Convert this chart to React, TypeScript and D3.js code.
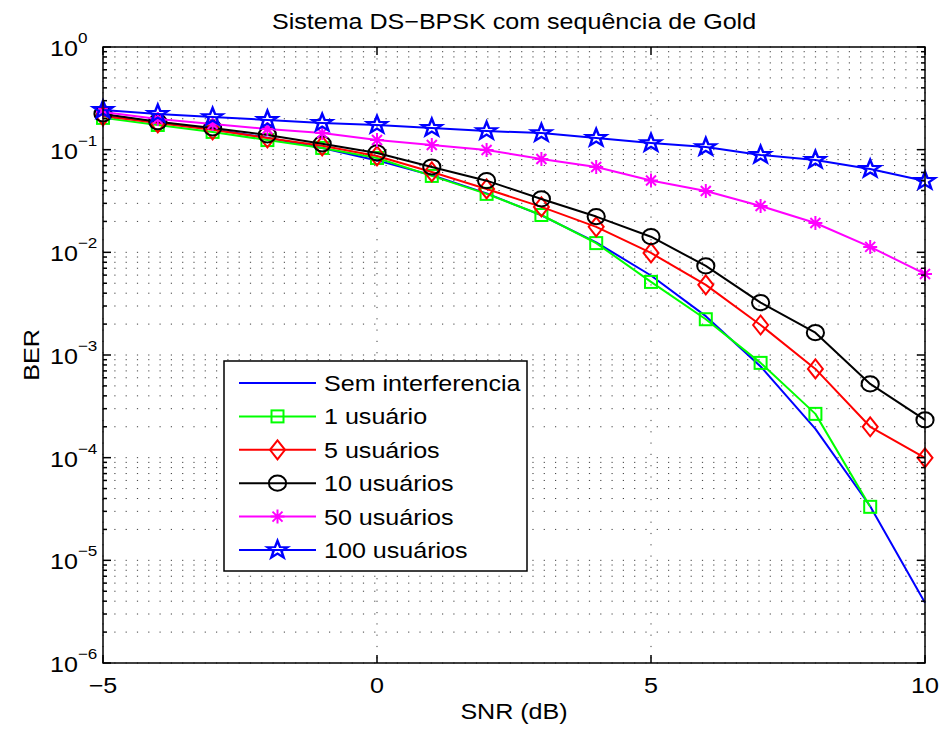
import React from 'react';
import * as d3 from 'd3';

// SNR axis (dB)
const snr = [-5, -4, -3, -2, -1, 0, 1, 2, 3, 4, 5, 6, 7, 8, 9, 10];

// BER curves
const berSemInterferencia = [0.213, 0.186, 0.158, 0.131, 0.104, 0.0786, 0.0563, 0.0375, 0.0229, 0.0125, 0.00595, 0.00239, 0.000773, 0.000191, 0.0000336, 0.00000387];
const ber1Usuario = [0.204, 0.174, 0.149, 0.124, 0.104, 0.083, 0.0555, 0.0371, 0.0231, 0.0123, 0.00515, 0.00223, 0.000838, 0.000267, 0.0000332];
const ber5Usuarios = [0.213, 0.182, 0.156, 0.13, 0.109, 0.0868, 0.0607, 0.0414, 0.0277, 0.0177, 0.00986, 0.00482, 0.00196, 0.000732, 0.0002, 0.0000996];
const ber10Usuarios = [0.223, 0.187, 0.163, 0.139, 0.114, 0.0929, 0.0678, 0.0499, 0.0331, 0.0223, 0.0142, 0.00737, 0.00324, 0.00165, 0.000523, 0.000233];
const ber50Usuarios = [0.233, 0.199, 0.178, 0.159, 0.145, 0.124, 0.111, 0.0993, 0.0812, 0.0678, 0.0501, 0.0396, 0.0283, 0.0193, 0.0113, 0.00616];
const ber100Usuarios = [0.244, 0.223, 0.208, 0.195, 0.182, 0.174, 0.163, 0.152, 0.145, 0.13, 0.116, 0.106, 0.0888, 0.0794, 0.0649, 0.0496];

const xTickValues = [-5, 0, 5, 10];
const xTickLabels = ['\u22125', '0', '5', '10'];
const yExponents = [0, -1, -2, -3, -4, -5, -6];
const yExpLabels = ['0', '\u22121', '\u22122', '\u22123', '\u22124', '\u22125', '\u22126'];

const legendLabels = ['Sem interferencia', '1 usuário', '5 usuários', '10 usuários', '50 usuários', '100 usuários'];
const seriesColors = ['#0000ff', '#00ff00', '#ff0000', '#000000', '#ff00ff', '#0000ff'];
const seriesMarkers = ['none', 'square', 'diamond', 'circle', 'asterisk', 'pentagram'];
const seriesValues = [berSemInterferencia, ber1Usuario, ber5Usuarios, ber10Usuarios, ber50Usuarios, ber100Usuarios];

const titleText = 'Sistema DS\u2212BPSK com sequência de Gold';
const xLabelText = 'SNR (dB)';
const yLabelText = 'BER';

const W = 941;
const H = 729;
const L = 103, R = 925, T = 47, B = 663;
const SX = 1.14;
const FONT = '"Liberation Sans", Arial, Helvetica, sans-serif';

const x = d3.scaleLinear().domain([-5, 10]).range([L, R]);
const y = d3.scaleLog().domain([1e-6, 1]).range([B, T]);

function starPath(r1: number, r2: number): string {
  const pts: string[] = [];
  for (let i = 0; i < 10; i++) {
    const a = -Math.PI / 2 + (i * Math.PI) / 5;
    const r = i % 2 === 0 ? r1 : r2;
    pts.push(`${(Math.cos(a) * r).toFixed(2)},${(Math.sin(a) * r).toFixed(2)}`);
  }
  return 'M' + pts.join('L') + 'Z';
}
const STAR = starPath(9.2, 3.7);

function Marker({ kind, color, cx, cy }: { kind: string; color: string; cx: number; cy: number }) {
  const common = { fill: 'none', stroke: color, strokeWidth: 2 };
  let el: React.ReactNode = null;
  if (kind === 'square') el = <rect x={-6} y={-6} width={12} height={12} {...common} />;
  else if (kind === 'diamond') el = <path d="M0,-9.5L7.5,0L0,9.5L-7.5,0Z" {...common} />;
  else if (kind === 'circle') el = <ellipse rx={8.6} ry={7.6} {...common} />;
  else if (kind === 'asterisk')
    el = <path d="M-7,0L7,0M0,-7L0,7M-5,-5L5,5M-5,5L5,-5" {...common} />;
  else if (kind === 'pentagram')
    el = <path d={STAR} transform={`scale(${SX},1)`} {...common} strokeWidth={2.2} strokeLinejoin="miter" />;
  if (!el) return null;
  return <g transform={`translate(${cx},${cy})`}>{el}</g>;
}

function Txt({ x0, y0, anchor = 'start', size = 22, children, rotate = 0 }: any) {
  const tr = rotate
    ? `translate(${x0},${y0}) rotate(${rotate}) scale(${SX},1)`
    : `translate(${x0},${y0}) scale(${SX},1)`;
  return (
    <text transform={tr} textAnchor={anchor} fontFamily={FONT} fontSize={size} fill="#000">
      {children}
    </text>
  );
}

export default function App() {
  const line = d3
    .line<number>()
    .x((_, i) => x(snr[i]))
    .y((d) => y(d));

  const minorVals: number[] = [];
  for (let e = -6; e < 0; e++) for (let k = 2; k <= 9; k++) minorVals.push(k * Math.pow(10, e));
  const majorVals = yExponents.map((e) => Math.pow(10, e));

  const dot = { stroke: '#000', strokeWidth: 1, strokeDasharray: '1.2 10.1', opacity: 0.75 };

  const legX0 = 224, legY0 = 361, legW = 303, legH = 210;
  const rowY = (i: number) => 383 + i * 33.4;

  return (
    <svg width={W} height={H} style={{ position: 'absolute', left: 0, top: 0, background: '#fff' }}>
      <rect x={0} y={0} width={W} height={H} fill="#fff" />
      {/* grid */}
      <g>
        {[...majorVals, ...minorVals].map((v, i) => (
          <line key={'h' + i} x1={L} x2={R} y1={y(v)} y2={y(v)} {...dot} />
        ))}
        {xTickValues.map((v, i) => (
          <line key={'v' + i} x1={x(v)} x2={x(v)} y1={T} y2={B} {...dot} />
        ))}
      </g>
      {/* curves */}
      <g>
        {seriesValues.map((vals, s) => (
          <g key={'s' + s}>
            <path d={line(vals) || ''} fill="none" stroke={seriesColors[s]} strokeWidth={2} strokeLinejoin="round" />
            {vals.map((v, i) => (
              <Marker key={i} kind={seriesMarkers[s]} color={seriesColors[s]} cx={x(snr[i])} cy={y(v)} />
            ))}
          </g>
        ))}
      </g>
      {/* axes box and ticks */}
      <g stroke="#000" strokeWidth={1.5}>
        <rect x={L} y={T} width={R - L} height={B - T} fill="none" />
        {majorVals.map((v, i) => (
          <g key={'ym' + i}>
            <line x1={L} x2={L + 8} y1={y(v)} y2={y(v)} />
            <line x1={R} x2={R - 8} y1={y(v)} y2={y(v)} />
          </g>
        ))}
        {minorVals.map((v, i) => (
          <g key={'yn' + i}>
            <line x1={L} x2={L + 4} y1={y(v)} y2={y(v)} />
            <line x1={R} x2={R - 4} y1={y(v)} y2={y(v)} />
          </g>
        ))}
        {xTickValues.map((v, i) => (
          <g key={'xt' + i}>
            <line x1={x(v)} x2={x(v)} y1={B} y2={B - 8} />
            <line x1={x(v)} x2={x(v)} y1={T} y2={T + 8} />
          </g>
        ))}
      </g>
      {/* tick labels */}
      {xTickValues.map((v, i) => (
        <Txt key={'xl' + i} x0={x(v)} y0={B + 30} anchor="middle">
          {xTickLabels[i]}
        </Txt>
      ))}
      {yExponents.map((e, i) => (
        <Txt key={'yl' + i} x0={50} y0={y(Math.pow(10, e)) + 9}>
          10
          <tspan dy={-13} fontSize={15}>
            {yExpLabels[i]}
          </tspan>
        </Txt>
      ))}
      {/* titles */}
      <Txt x0={(L + R) / 2} y0={29} anchor="middle">
        {titleText}
      </Txt>
      <Txt x0={(L + R) / 2} y0={719} anchor="middle">
        {xLabelText}
      </Txt>
      <Txt x0={39} y0={(T + B) / 2} anchor="middle" rotate={-90}>
        {yLabelText}
      </Txt>
      {/* legend */}
      <g>
        <rect x={legX0} y={legY0} width={legW} height={legH} fill="#fff" stroke="#000" strokeWidth={1.5} />
        {legendLabels.map((lab, i) => (
          <g key={'lg' + i}>
            <line x1={239} x2={316} y1={rowY(i)} y2={rowY(i)} stroke={seriesColors[i]} strokeWidth={2} />
            <Marker kind={seriesMarkers[i]} color={seriesColors[i]} cx={277.5} cy={rowY(i)} />
            <Txt x0={324} y0={rowY(i) + 8}>
              {lab}
            </Txt>
          </g>
        ))}
      </g>
    </svg>
  );
}
